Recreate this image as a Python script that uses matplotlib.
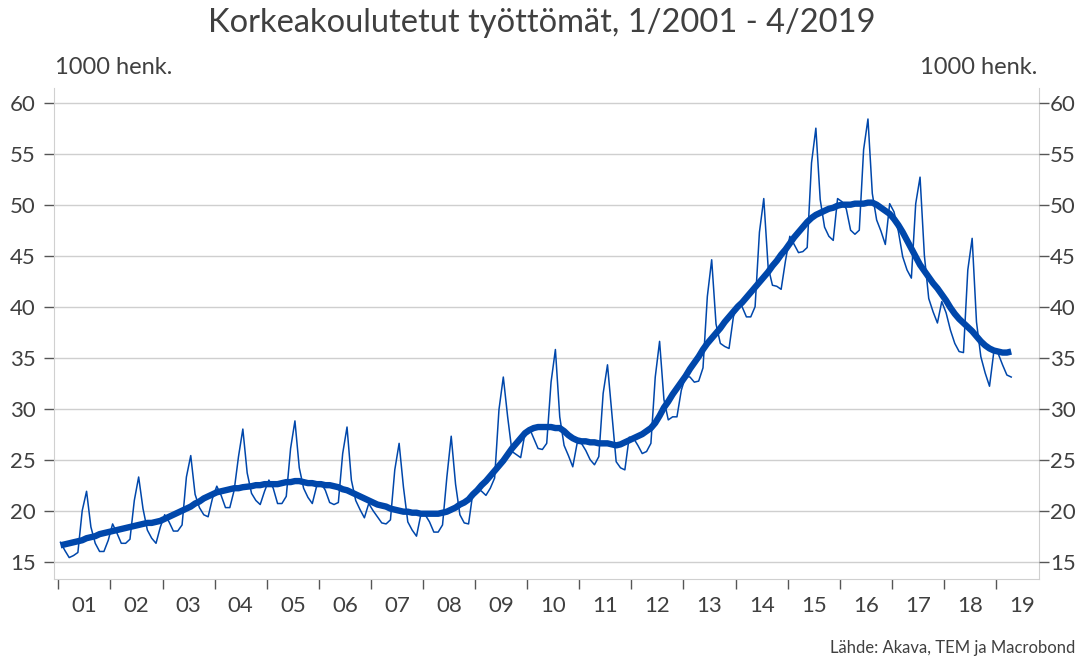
import matplotlib.pyplot as plt
import numpy as np

plt.rcParams['font.family'] = ['Lato', 'DejaVu Sans']

# year labels on the x axis (2001..2019)
year_labels = [f'{y:02d}' for y in range(1, 20)]

# monthly values, 1000 persons, 1/2001 - 4/2019
monthly = [
    16.9, 16.1, 15.4, 15.6, 15.9, 20.0, 21.9, 18.4, 16.8, 16.0, 16.0, 17.1,  # 2001
    18.7, 17.8, 16.8, 16.8, 17.2, 21.0, 23.3, 20.2, 18.1, 17.3, 16.8, 18.4,  # 2002
    19.6, 18.9, 18.0, 18.0, 18.6, 23.3, 25.4, 21.6, 20.3, 19.6, 19.4, 21.2,  # 2003
    22.4, 21.5, 20.3, 20.3, 22.0, 25.3, 28.0, 23.7, 21.7, 21.0, 20.6, 21.9,  # 2004
    23.0, 22.2, 20.7, 20.7, 21.4, 26.1, 28.8, 24.2, 22.2, 21.3, 20.7, 22.4,  # 2005
    22.7, 22.0, 20.8, 20.6, 20.8, 25.6, 28.2, 23.0, 21.0, 20.1, 19.3, 20.7,  # 2006
    20.0, 19.4, 18.8, 18.7, 19.1, 24.0, 26.6, 22.3, 18.9, 18.1, 17.5, 19.6,  # 2007
    19.6, 18.9, 17.9, 17.9, 18.6, 23.3, 27.3, 22.6, 19.6, 18.8, 18.7, 21.8,  # 2008
    22.2, 21.9, 21.5, 22.2, 23.2, 29.9, 33.1, 29.2, 25.8, 25.5, 25.2, 27.6,  # 2009
    28.1, 27.1, 26.1, 26.0, 26.6, 32.6, 35.8, 29.2, 26.4, 25.4, 24.3, 26.6,  # 2010
    26.6, 25.9, 25.0, 24.5, 25.3, 31.5, 34.3, 29.5, 24.8, 24.2, 24.0, 27.2,  # 2011
    27.1, 26.4, 25.6, 25.8, 26.6, 33.1, 36.6, 30.9, 28.9, 29.2, 29.2, 31.8,  # 2012
    33.2, 33.1, 32.6, 32.7, 34.0, 41.0, 44.6, 38.3, 36.4, 36.1, 35.9, 39.0,  # 2013
    40.3, 40.0, 39.0, 39.0, 40.0, 47.3, 50.6, 43.9, 42.1, 42.0, 41.7, 44.5,  # 2014
    46.9, 46.1, 45.3, 45.4, 45.8, 54.1, 57.5, 50.5, 47.8, 46.9, 46.5, 50.6,  # 2015
    50.3, 49.6, 47.5, 47.1, 47.5, 55.4, 58.4, 51.1, 48.5, 47.4, 46.1, 50.1,  # 2016
    49.3, 47.4, 44.9, 43.6, 42.8, 50.1, 52.7, 45.0, 40.8, 39.5, 38.4, 40.5,  # 2017
    39.4, 37.7, 36.4, 35.6, 35.5, 43.6, 46.7, 38.5, 35.1, 33.5, 32.2, 35.6,  # 2018
    35.4, 34.3, 33.3, 33.1,                                                  # 2019
]

# trend (thick line)
trend = [
    16.6, 16.7, 16.8, 16.9, 17.0, 17.1, 17.3, 17.4, 17.5, 17.7, 17.8, 17.9,
    18.0, 18.1, 18.2, 18.3, 18.4, 18.5, 18.6, 18.7, 18.8, 18.8, 18.9, 19.0,
    19.2, 19.4, 19.6, 19.8, 20.0, 20.2, 20.4, 20.7, 20.9, 21.2, 21.4, 21.6,
    21.8, 21.9, 22.0, 22.1, 22.2, 22.2, 22.3, 22.35, 22.4, 22.5, 22.5, 22.6,
    22.6, 22.6, 22.6, 22.7, 22.8, 22.8, 22.9, 22.9, 22.8, 22.7, 22.7, 22.6,
    22.6, 22.5, 22.5, 22.4, 22.3, 22.1, 22.0, 21.8, 21.6, 21.4, 21.2, 21.0,
    20.8, 20.6, 20.5, 20.4, 20.2, 20.1, 20.0, 19.9, 19.9, 19.8, 19.8, 19.7,
    19.7, 19.7, 19.7, 19.7, 19.8, 19.9, 20.1, 20.3, 20.6, 20.8, 21.1, 21.6,
    22.0, 22.5, 22.9, 23.4, 23.9, 24.4, 24.9, 25.5, 26.1, 26.6, 27.1, 27.6,
    27.9, 28.1, 28.2, 28.2, 28.2, 28.2, 28.1, 28.1, 27.8, 27.4, 27.1, 26.9,
    26.8, 26.8, 26.7, 26.7, 26.6, 26.6, 26.6, 26.5, 26.4, 26.5, 26.7, 26.9,
    27.1, 27.3, 27.5, 27.8, 28.1, 28.6, 29.3, 30.1, 30.7, 31.4, 32.0, 32.6,
    33.2, 33.9, 34.5, 35.1, 35.8, 36.4, 36.9, 37.4, 37.9, 38.5, 39.0, 39.5,
    40.0, 40.4, 40.9, 41.4, 41.9, 42.4, 42.9, 43.4, 44.0, 44.5, 45.1, 45.6,
    46.2, 46.8, 47.3, 47.8, 48.3, 48.7, 49.0, 49.2, 49.4, 49.6, 49.7, 49.9,
    50.0, 50.0, 50.0, 50.1, 50.1, 50.1, 50.2, 50.2, 50.0, 49.7, 49.4, 49.1,
    48.6, 48.0, 47.3, 46.5, 45.7, 44.9, 44.1, 43.5, 42.9, 42.3, 41.8, 41.2,
    40.6, 39.9, 39.3, 38.8, 38.4, 38.0, 37.6, 37.1, 36.6, 36.2, 35.9, 35.7,
    35.6, 35.5, 35.5, 35.6,
]

blue = '#0047ab'
grey_txt = '#404040'
grid_col = '#cfcfcf'

months = np.arange(len(monthly)) + 0.5

fig = plt.figure(figsize=(10.83, 6.61), dpi=100)
ax = fig.add_axes([54 / 1083, 82 / 661, 985 / 1083, 491 / 661])

ax.plot(months, monthly, color=blue, lw=1.1, zorder=3)
ax.plot(months, trend, color=blue, lw=4.6, solid_capstyle='butt', zorder=4)

ax.set_xlim(-1.0, 225.9)
ax.set_ylim(13.3, 61.44)
yticks = np.arange(15, 61, 5)
ax.set_yticks(yticks)
ax.set_yticklabels([str(v) for v in yticks])
ax.yaxis.grid(True, color=grid_col, lw=1)
ax.set_axisbelow(True)

# year ticks at boundaries, labels centred in each year
ax.set_xticks(np.arange(0, 217, 12))
ax.set_xticklabels([])
ax.set_xticks(np.arange(6, 223, 12), minor=True)
ax.set_xticklabels(year_labels, minor=True)
ax.tick_params(axis='x', which='major', direction='out', length=7, width=1,
               color='#555555')
ax.tick_params(axis='x', which='minor', length=0, pad=12, labelsize=16,
               labelcolor=grey_txt)
ax.tick_params(axis='y', direction='out', length=7, width=1, color='#555555',
               labelsize=16, labelcolor=grey_txt, pad=6)

for side in ['left', 'right', 'bottom']:
    ax.spines[side].set_color('#d0d0d0')
ax.spines['top'].set_visible(False)

ax2 = ax.twinx()
ax2.set_ylim(ax.get_ylim())
ax2.set_yticks(yticks)
ax2.set_yticklabels([str(v) for v in yticks])
ax2.tick_params(axis='y', direction='out', length=7, width=1, color='#555555',
                labelsize=16, labelcolor=grey_txt, pad=1)
for side in ['left', 'right', 'bottom', 'top']:
    ax2.spines[side].set_visible(False)

fig.text(0.5, 1 - 23 / 661, 'Korkeakoulutetut työttömät, 1/2001 - 4/2019',
         ha='center', va='center', fontsize=23.5, color=grey_txt)
fig.text(55 / 1083, 1 - 67 / 661, '1000 henk.', ha='left', va='center',
         fontsize=17, color=grey_txt)
fig.text(1037 / 1083, 1 - 67 / 661, '1000 henk.', ha='right', va='center',
         fontsize=17, color=grey_txt)
fig.text(1075 / 1083, 1 - 648 / 661, 'Lähde: Akava, TEM ja Macrobond',
         ha='right', va='center', fontsize=12, color=grey_txt)

fig.savefig('out.png', dpi=100)
